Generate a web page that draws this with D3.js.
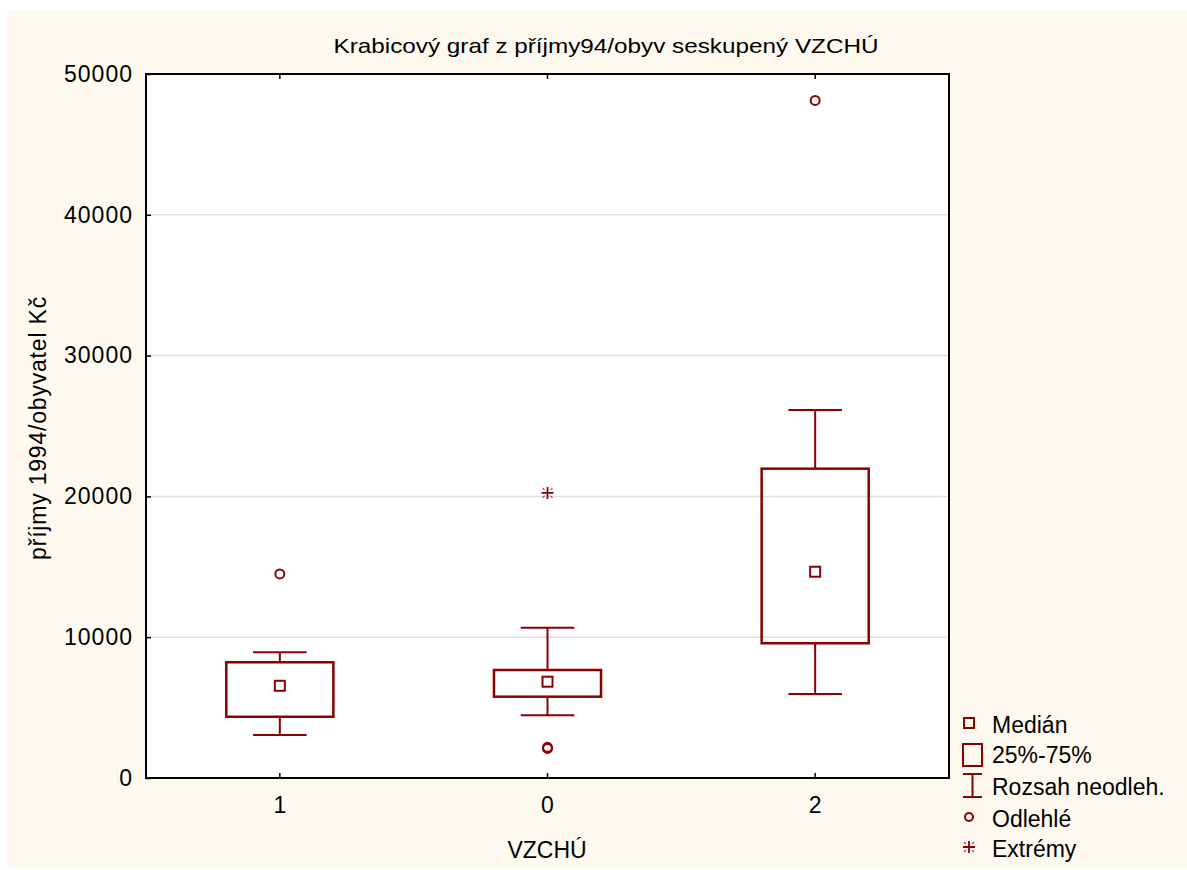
<!DOCTYPE html>
<html>
<head>
<meta charset="utf-8">
<script src="https://cdn.jsdelivr.net/npm/d3@7/dist/d3.min.js"></script>
<style>
  html, body { margin: 0; padding: 0; background: #fff; }
  svg text { font-family: 'Liberation Sans', Arial, sans-serif; fill: #000; }
</style>
</head>
<body>
<svg id="chart" width="1187" height="870"></svg>
<script>
// data
var categories = ['1', '0', '2']
var whiskerLow = [3050, 4450, 5970]
var q1 = [4350, 5775, 9570]
var median = [6550, 6840, 14650]
var q3 = [8220, 7670, 21970]
var whiskerHigh = [8930, 10680, 26140]
var outliers = [[14490], [2100, 2180], [48120]]
var extremes = [[], [20250], []]
var yTicks = [0, 10000, 20000, 30000, 40000, 50000]
var legendItems = ['Medián', '25%-75%', 'Rozsah neodleh.', 'Odlehlé', 'Extrémy']

var RED = '#8b0000'
var FS = '23px'
var svg = d3.select('#chart')

// cream background panel
svg.append('rect').attr('x', 7).attr('y', 10).attr('width', 1180).attr('height', 858)
  .attr('fill', '#fef9ef')

var margin = { left: 146, top: 74, right: 949, bottom: 778 }
var x = d3.scaleBand().domain(categories).range([margin.left, margin.right])
  .paddingInner(0.6).paddingOuter(0.3)
var y = d3.scaleLinear().domain([0, 50000]).range([margin.bottom, margin.top])

svg.append('rect').attr('x', margin.left).attr('y', margin.top)
  .attr('width', margin.right - margin.left).attr('height', margin.bottom - margin.top)
  .attr('fill', '#fff')

// grid lines
svg.append('g').selectAll('line').data(yTicks.slice(1, -1)).enter().append('line')
  .attr('x1', margin.left).attr('x2', margin.right)
  .attr('y1', function (d) { return y(d) }).attr('y2', function (d) { return y(d) })
  .attr('stroke', '#e0e0e0').attr('stroke-width', 1.5)

// y axis, ticks inside
var yAxis = svg.append('g').attr('transform', 'translate(' + margin.left + ',0)')
  .call(d3.axisLeft(y).tickValues(yTicks).tickSize(-5).tickPadding(13).tickFormat(d3.format('d')))
yAxis.select('.domain').remove()
yAxis.selectAll('line').attr('stroke', '#000').attr('stroke-width', 1.5)
yAxis.selectAll('text').style('font-size', FS).style('letter-spacing', '1px')
  .attr('font-family', null)

// x axis, ticks inside top and bottom
var xAxis = svg.append('g').attr('transform', 'translate(0,' + margin.bottom + ')')
  .call(d3.axisBottom(x).tickSize(-5).tickPadding(19))
xAxis.select('.domain').remove()
xAxis.selectAll('line').attr('stroke', '#000').attr('stroke-width', 1.5)
xAxis.selectAll('text').style('font-size', FS).attr('font-family', null)
var xTop = svg.append('g').attr('transform', 'translate(0,' + margin.top + ')')
  .call(d3.axisTop(x).tickSize(-5).tickFormat(''))
xTop.select('.domain').remove()
xTop.selectAll('line').attr('stroke', '#000').attr('stroke-width', 1.5)

// frame
svg.append('rect').attr('x', margin.left).attr('y', margin.top)
  .attr('width', margin.right - margin.left).attr('height', margin.bottom - margin.top)
  .attr('fill', 'none').attr('stroke', '#000').attr('stroke-width', 2)

// boxes
var bw = x.bandwidth()
var boxes = svg.append('g').selectAll('g').data(categories).enter().append('g')
boxes.each(function (c, i) {
  var g = d3.select(this)
  var cx = x(c) + bw / 2
  g.append('line').attr('x1', cx).attr('x2', cx).attr('y1', y(whiskerHigh[i])).attr('y2', y(q3[i]))
    .attr('stroke', RED).attr('stroke-width', 2)
  g.append('line').attr('x1', cx).attr('x2', cx).attr('y1', y(q1[i])).attr('y2', y(whiskerLow[i]))
    .attr('stroke', RED).attr('stroke-width', 2)
  ;[whiskerHigh[i], whiskerLow[i]].forEach(function (v) {
    g.append('line').attr('x1', cx - bw / 4).attr('x2', cx + bw / 4).attr('y1', y(v)).attr('y2', y(v))
      .attr('stroke', RED).attr('stroke-width', 2)
  })
  g.append('rect').attr('x', x(c)).attr('y', y(q3[i])).attr('width', bw)
    .attr('height', y(q1[i]) - y(q3[i])).attr('fill', 'none').attr('stroke', RED).attr('stroke-width', 2.5)
  g.append('rect').attr('x', cx - 5).attr('y', y(median[i]) - 5).attr('width', 10).attr('height', 10)
    .attr('fill', '#fff').attr('stroke', RED).attr('stroke-width', 2)
  outliers[i].forEach(function (v) {
    g.append('circle').attr('cx', cx).attr('cy', y(v)).attr('r', 4.5)
      .attr('fill', 'none').attr('stroke', RED).attr('stroke-width', 2)
  })
  extremes[i].forEach(function (v) {
    drawStar(g, cx, y(v))
  })
})

function drawStar (g, cx, cy) {
  g.append('path').attr('d', 'M' + (cx - 6) + ',' + cy + 'H' + (cx + 6) + 'M' + cx + ',' + (cy - 6) + 'V' + (cy + 6))
    .attr('stroke', RED).attr('stroke-width', 1.8)
  g.append('path').attr('d', 'M' + (cx - 5) + ',' + (cy - 5) + 'L' + (cx - 3) + ',' + (cy - 3) +
    'M' + (cx + 5) + ',' + (cy - 5) + 'L' + (cx + 3) + ',' + (cy - 3) +
    'M' + (cx - 5) + ',' + (cy + 5) + 'L' + (cx - 3) + ',' + (cy + 3) +
    'M' + (cx + 5) + ',' + (cy + 5) + 'L' + (cx + 3) + ',' + (cy + 3))
    .attr('stroke', RED).attr('stroke-width', 1.2).attr('opacity', 0.7)
}

// titles
svg.append('text').attr('x', 606).attr('y', 53).attr('text-anchor', 'middle')
  .style('font-size', '21px').attr('textLength', 545).attr('lengthAdjust', 'spacingAndGlyphs')
  .text('Krabicový graf z příjmy94/obyv seskupený VZCHÚ')
svg.append('text').attr('x', 547).attr('y', 858).attr('text-anchor', 'middle')
  .style('font-size', FS).text('VZCHÚ')
svg.append('text').attr('transform', 'translate(46,428) rotate(-90)').attr('text-anchor', 'middle')
  .style('font-size', FS).style('letter-spacing', '0.8px').text('příjmy 1994/obyvatel Kč')

// legend
var lx = 969
var lg = svg.append('g')
lg.append('rect').attr('x', lx - 5).attr('y', 718).attr('width', 10).attr('height', 10)
  .attr('fill', 'none').attr('stroke', RED).attr('stroke-width', 2)
lg.append('rect').attr('x', lx - 6).attr('y', 744).attr('width', 19).attr('height', 22)
  .attr('fill', 'none').attr('stroke', RED).attr('stroke-width', 2)
lg.append('path').attr('d', 'M' + (lx - 6) + ',774H' + (lx + 13) + 'M' + (lx + 3.5) + ',774V797M' + (lx - 6) + ',797H' + (lx + 13))
  .attr('stroke', RED).attr('stroke-width', 2).attr('fill', 'none')
lg.append('circle').attr('cx', lx).attr('cy', 817).attr('r', 4)
  .attr('fill', 'none').attr('stroke', RED).attr('stroke-width', 2)
drawStar(lg, lx, 847)
lg.selectAll('text').data(legendItems).enter().append('text')
  .attr('x', 992).attr('y', function (d, i) { return [733, 763, 795, 827, 857][i] })
  .style('font-size', FS).text(function (d) { return d })
</script>
</body>
</html>
